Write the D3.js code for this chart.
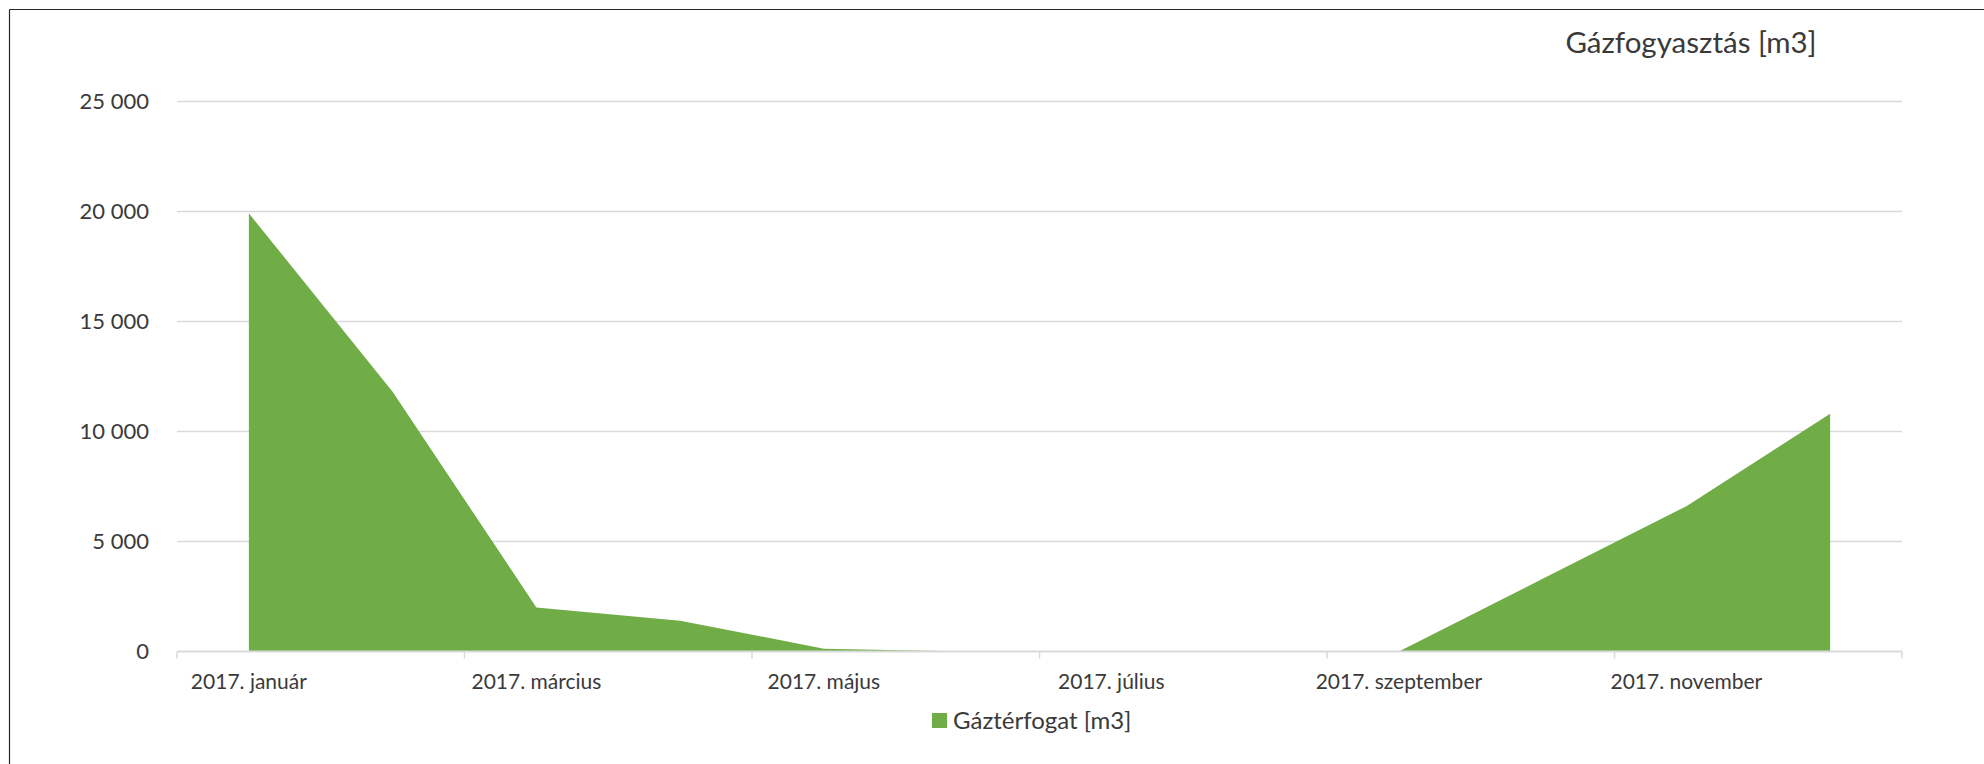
<!DOCTYPE html>
<html>
<head>
<meta charset="utf-8">
<script src="https://cdn.jsdelivr.net/npm/d3@7"></script>
<style>
  html, body { margin: 0; padding: 0; background: #fff; }
  svg { display: block; }
  text { font-family: Lato, "Open Sans", sans-serif; fill: #3a3a3a; }
</style>
</head>
<body>
<svg id="chart" width="1984" height="764"></svg>
<script>
// ---- data ----
const months = ["2017. január", "2017. február", "2017. március", "2017. április",
  "2017. május", "2017. június", "2017. július", "2017. augusztus",
  "2017. szeptember", "2017. október", "2017. november", "2017. december"];
const gasVolume = [19900, 11800, 2000, 1400, 130, 0, 0, 0, 0, 3300, 6600, 10800];
const yTicks = [0, 5000, 10000, 15000, 20000, 25000];
const chartTitle = "Gázfogyasztás [m3]";
const seriesName = "Gáztérfogat [m3]";

// ---- layout ----
const W = 1984, H = 764;
const plot = { left: 177, right: 1902, top: 101, bottom: 651.5 };
const green = "#70AD47";
const gridColor = "#d9d9d9";

const svg = d3.select("#chart");

// outer frame (only top and left edges visible)
svg.append("line").attr("x1", 9.5).attr("x2", W).attr("y1", 9.5).attr("y2", 9.5)
  .attr("stroke", "#262626").attr("stroke-width", 1.2);
svg.append("line").attr("x1", 9.5).attr("x2", 9.5).attr("y1", 9.5).attr("y2", H)
  .attr("stroke", "#262626").attr("stroke-width", 1.2);

const x = d3.scaleBand().domain(months).range([plot.left, plot.right]).padding(0);
const y = d3.scaleLinear().domain([0, 25000]).range([plot.bottom, plot.top]);
const cx = d => x(d) + x.bandwidth() / 2;

const fmt = v => d3.format(",")(v).replace(/,/g, " ");

// gridlines
svg.append("g").selectAll("line").data(yTicks.filter(t => t > 0)).join("line")
  .attr("x1", plot.left).attr("x2", plot.right)
  .attr("y1", d => Math.round(y(d)) + 0.5).attr("y2", d => Math.round(y(d)) + 0.5)
  .attr("stroke", gridColor).attr("stroke-width", 1.3);

// y labels
svg.append("g").selectAll("text").data(yTicks).join("text")
  .attr("x", 149).attr("y", d => y(d)).attr("dy", "0.35em")
  .attr("text-anchor", "end").attr("font-size", 22)
  .text(fmt);

// area
const area = d3.area()
  .x((d, i) => cx(months[i]))
  .y0(y(0))
  .y1(d => y(d));
svg.append("path").datum(gasVolume).attr("d", area).attr("fill", green);

// x axis line
svg.append("line").attr("x1", plot.left).attr("x2", plot.right)
  .attr("y1", y(0)).attr("y2", y(0))
  .attr("stroke", gridColor).attr("stroke-width", 2.2);

// tick marks at every second band boundary
const tickPos = d3.range(0, months.length + 1, 2).map(i => plot.left + i * x.bandwidth());
svg.append("g").selectAll("line").data(tickPos).join("line")
  .attr("x1", d => d).attr("x2", d => d)
  .attr("y1", y(0)).attr("y2", y(0) + 7)
  .attr("stroke", gridColor).attr("stroke-width", 1.5);

// x labels (every second month)
svg.append("g").selectAll("text").data(months.filter((m, i) => i % 2 === 0)).join("text")
  .attr("x", d => cx(d)).attr("y", 689)
  .attr("text-anchor", "middle").attr("font-size", 21)
  .text(d => d);

// title
svg.append("text").attr("x", 1691).attr("y", 53)
  .attr("text-anchor", "middle").attr("font-size", 29.5)
  .text(chartTitle);

// legend
const lg = svg.append("g");
lg.append("rect").attr("x", 932).attr("y", 713).attr("width", 15).attr("height", 15).attr("fill", green);
lg.append("text").attr("x", 953).attr("y", 729).attr("font-size", 24).text(seriesName);
</script>
</body>
</html>
